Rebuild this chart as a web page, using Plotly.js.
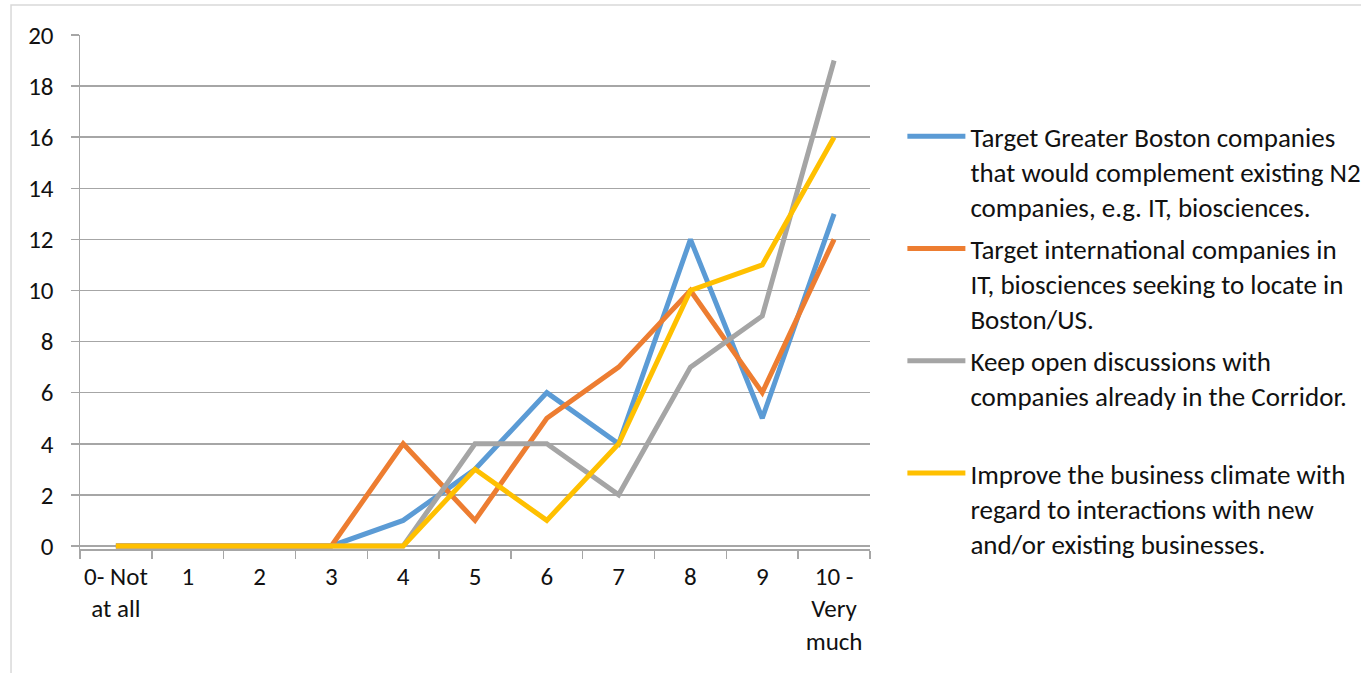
<!DOCTYPE html>
<html>
<head>
<meta charset="utf-8">
<script src="https://cdn.plot.ly/plotly-3.0.1.min.js"></script>
<style>html,body{margin:0;padding:0;background:#fff;}#chart{width:1361px;height:673px;}</style>
</head>
<body>
<div id="chart"></div>
<script>
const categories = ["0- Not<br>at all","1","2","3","4","5","6","7","8","9","10 -<br>Very<br>much"];
const seriesNames = [
  "Target Greater Boston companies<br>that would complement existing N2<br>companies, e.g. IT, biosciences.",
  "Target international companies in<br>IT, biosciences seeking to locate in<br>Boston/US.",
  "Keep open discussions with<br>companies already in the Corridor.<br> ",
  "Improve the business climate with<br>regard to interactions with new<br>and/or existing businesses."
];
const bostonCompanies = [0,0,0,0,1,3,6,4,12,5,13];
const internationalCompanies = [0,0,0,0,4,1,5,7,10,6,12];
const openDiscussions = [0,0,0,0,0,4,4,2,7,9,19];
const businessClimate = [0,0,0,0,0,3,1,4,10,11,16];
const yTicks = [0,2,4,6,8,10,12,14,16,18,20];

const colors = ["#5B9BD5","#ED7D31","#A5A5A5","#FFC000"];
const allSeries = [bostonCompanies, internationalCompanies, openDiscussions, businessClimate];

const traces = allSeries.map((vals, i) => ({
  type: "scatter",
  mode: "lines",
  x: categories,
  y: vals,
  name: seriesNames[i],
  legendgroup: "g" + i,
  line: {color: colors[i], width: 5, shape: "linear"},
  hoverinfo: "x+y"
}));

const font = {family: "Carlito, Lato, 'Open Sans', sans-serif", size: 25, color: "#111"};

const layout = {
  width: 1361,
  height: 673,
  margin: {l: 80, r: 491, t: 35, b: 124, autoexpand: false},
  paper_bgcolor: "#fff",
  plot_bgcolor: "#fff",
  font: font,
  showlegend: true,
  legend: {
    x: 1.041, xanchor: "left",
    y: 0.85, yanchor: "top",
    font: {family: font.family, size: 27, color: "#111"},
    valign: "top",
    itemwidth: 58,
    tracegroupgap: 4,
    bgcolor: "rgba(0,0,0,0)"
  },
  xaxis: {
    type: "category",
    range: [-0.5, 10.5],
    showgrid: false,
    showline: true,
    linecolor: "#A6A6A6",
    linewidth: 1.5,
    ticks: "outside",
    tickson: "boundaries",
    ticklen: 8,
    tickcolor: "#A6A6A6",
    tickwidth: 1.5,
    tickangle: 0,
    ticklabelstandoff: 4,
    tickfont: font,
    zeroline: false,
    automargin: false,
    fixedrange: true
  },
  yaxis: {
    range: [-0.12, 20],
    tickvals: yTicks,
    ticktext: yTicks.map(String),
    showgrid: true,
    gridcolor: "#A6A6A6",
    gridwidth: 1.5,
    showline: true,
    linecolor: "#A6A6A6",
    linewidth: 1.5,
    ticks: "outside",
    ticklen: 8,
    tickcolor: "#A6A6A6",
    tickwidth: 1.5,
    ticklabelstandoff: 12,
    tickfont: font,
    zeroline: false,
    automargin: false,
    fixedrange: true
  },
  shapes: [{
    type: "rect", xref: "paper", yref: "paper",
    x0: -0.0873, x1: 2, y0: -1, y1: 1.0584,
    line: {color: "#D9D9D9", width: 1.5},
    fillcolor: "rgba(0,0,0,0)", layer: "below"
  }]
};

Plotly.newPlot("chart", traces, layout, {displayModeBar: false, staticPlot: true});
</script>
</body>
</html>
